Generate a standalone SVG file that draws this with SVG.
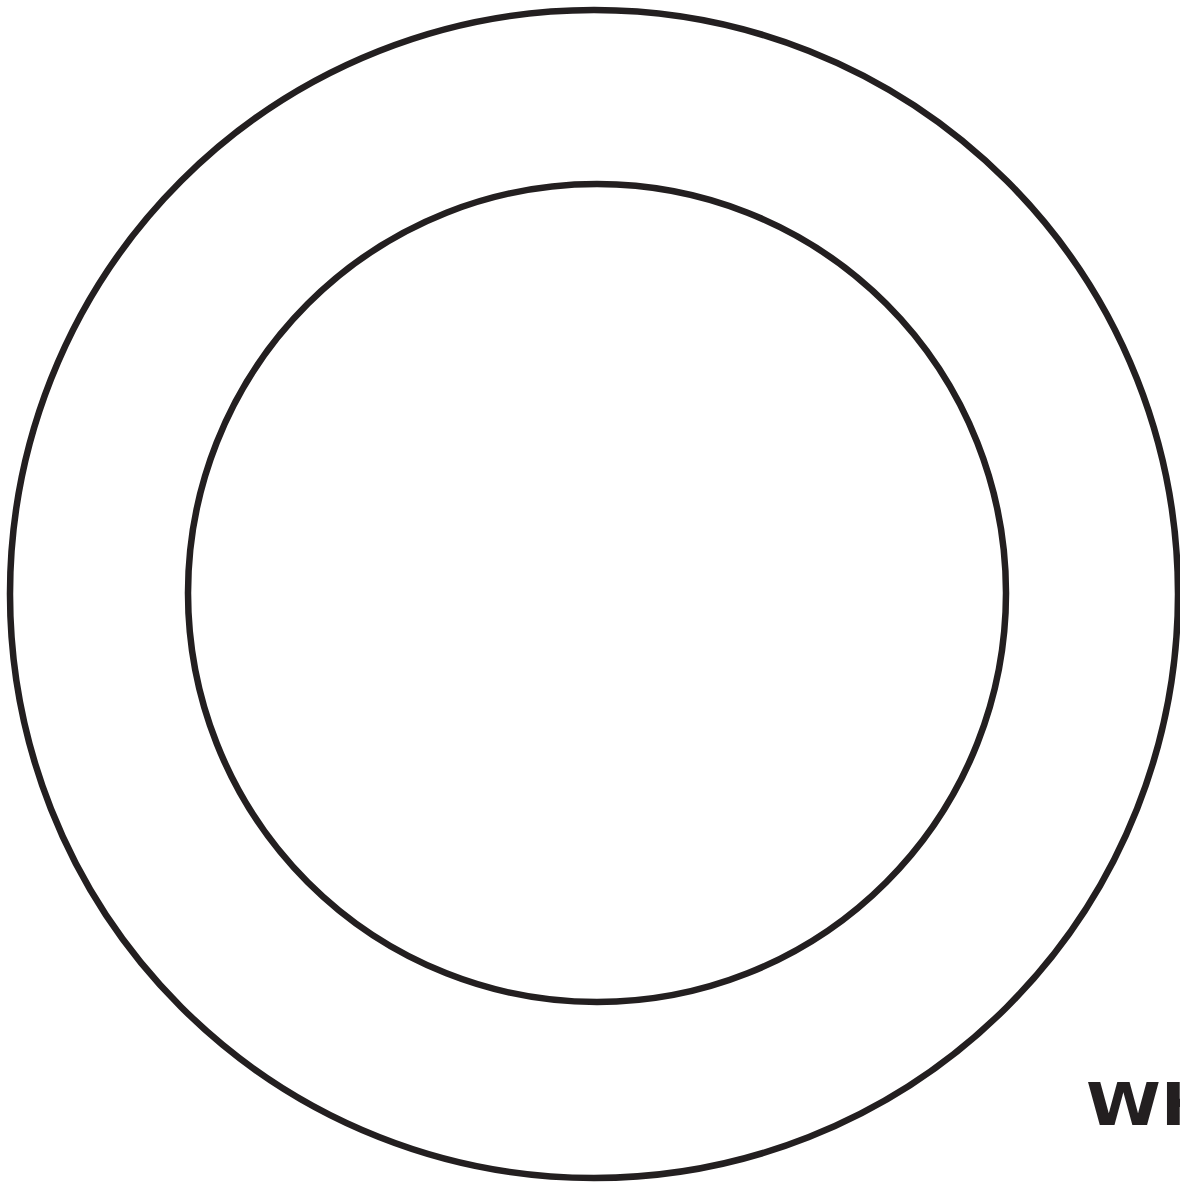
<svg xmlns="http://www.w3.org/2000/svg" width="1180" height="1184" viewBox="0 0 1180 1184">
<style>
.ring{fill:none;stroke:#231f20;stroke-width:6.5}
.lbl{font-family:"DejaVu Sans","Liberation Sans",sans-serif;font-weight:bold;fill:#231f20}
</style>
<rect width="1180" height="1184" fill="#ffffff"/>
<g id="outer-ring"><circle class="ring" cx="594" cy="594" r="584"/></g>
<g id="inner-ring"><circle class="ring" cx="597" cy="593" r="409"/></g>
<g id="connectors"></g>
<g id="label"><text class="lbl" transform="translate(1086,1125) scale(1.15,1)" x="0" y="0" font-size="59">WH</text></g>
</svg>
